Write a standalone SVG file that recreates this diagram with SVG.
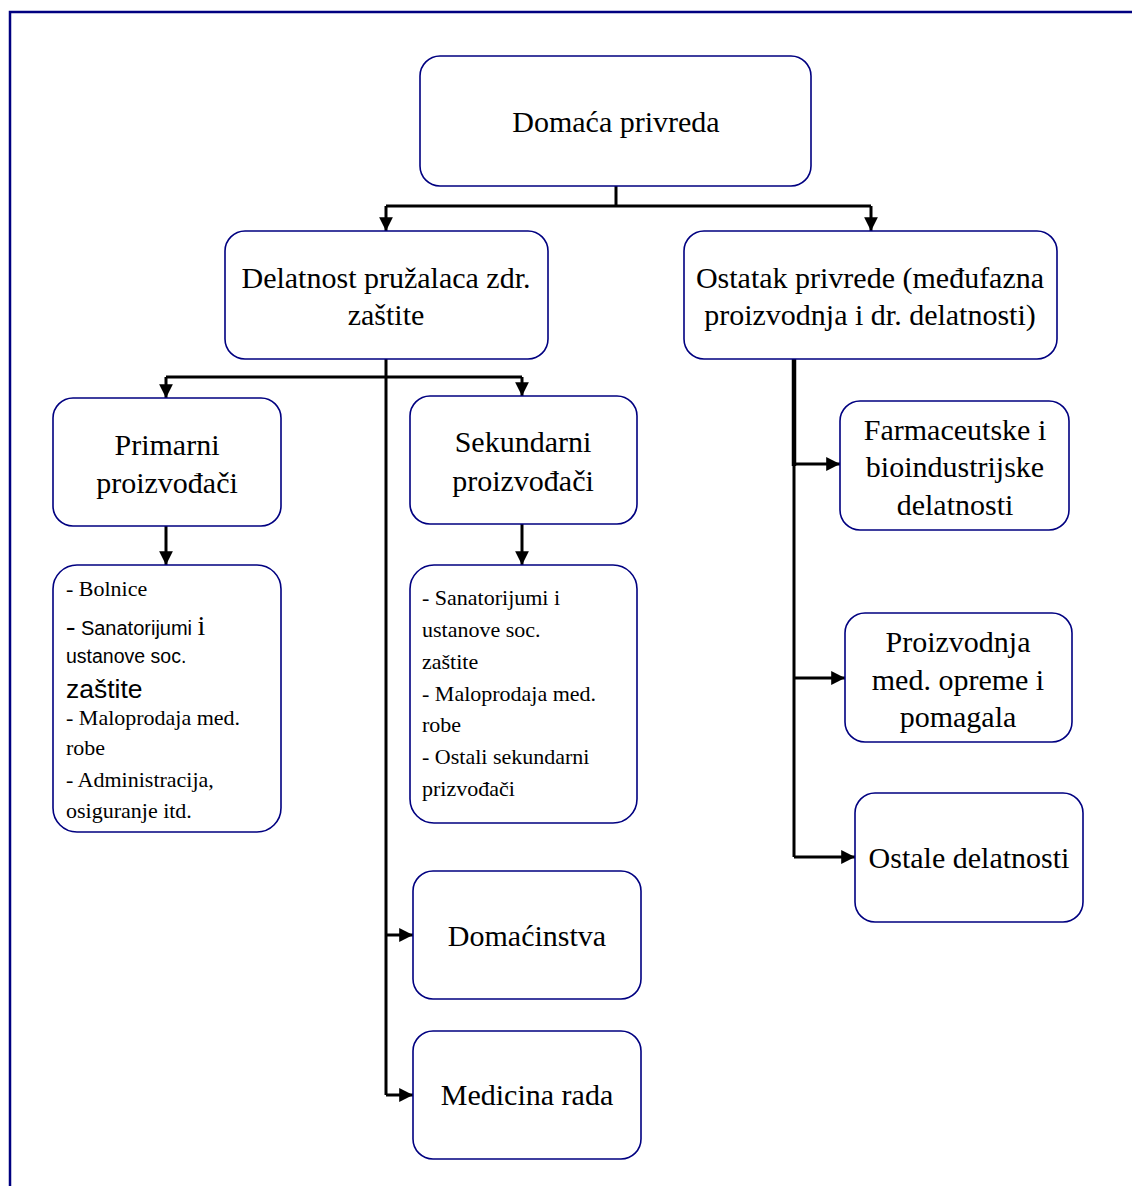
<svg xmlns="http://www.w3.org/2000/svg" width="1132" height="1186" viewBox="0 0 1132 1186">
<style>
.box{fill:#fff;stroke:#000080;stroke-width:1.6}
.t{font-family:"Liberation Serif","Times New Roman",serif;font-size:30px;fill:#000;text-anchor:middle}
.s{font-family:"Liberation Serif","Times New Roman",serif;font-size:22px;fill:#000}
.ss{font-family:"Liberation Sans",Arial,sans-serif;font-size:20px}
.c{stroke:#000;stroke-width:3;fill:none}
</style>
<defs>
<marker id="a" viewBox="0 0 10 10" refX="10" refY="5" markerWidth="5" markerHeight="4.6" orient="auto" markerUnits="strokeWidth">
<path d="M0,0 L10,5 L0,10 z" fill="#000"/>
</marker>
</defs>
<rect width="1132" height="1186" fill="#fff"/>
<path d="M10,1186 V12 H1132" fill="none" stroke="#000080" stroke-width="2.5"/>
<g id="connectors">
<path class="c" d="M616,186 V206"/>
<path class="c" d="M386,206 H871"/>
<path class="c" d="M386,206 V231" marker-end="url(#a)"/>
<path class="c" d="M871,206 V231" marker-end="url(#a)"/>
<path class="c" d="M386,359 V1095"/>
<path class="c" d="M166,377 H522"/>
<path class="c" d="M166,377 V398" marker-end="url(#a)"/>
<path class="c" d="M522,377 V396" marker-end="url(#a)"/>
<path class="c" d="M166,526 V565" marker-end="url(#a)"/>
<path class="c" d="M522,524 V565" marker-end="url(#a)"/>
<path class="c" d="M386,935 H413" marker-end="url(#a)"/>
<path class="c" d="M386,1095 H413" marker-end="url(#a)"/>
<path d="M794,359 V466" stroke="#000" stroke-width="4.5" fill="none"/>
<path class="c" d="M794,464 V857"/>
<path class="c" d="M794,464 H840" marker-end="url(#a)"/>
<path class="c" d="M794,678 H845" marker-end="url(#a)"/>
<path class="c" d="M794,857 H855" marker-end="url(#a)"/>
</g>
<g id="n-domaca"><rect class="box" x="420" y="56" width="391" height="130" rx="20"/><text class="t" x="616" y="132">Domaća privreda</text></g>
<g id="n-delatnost"><rect class="box" x="225" y="231" width="323" height="128" rx="20"/><text class="t" x="386" y="288">Delatnost pružalaca zdr.</text><text class="t" x="386" y="325">zaštite</text></g>
<g id="n-ostatak"><rect class="box" x="684" y="231" width="373" height="128" rx="20"/><text class="t" x="870" y="288">Ostatak privrede (međufazna</text><text class="t" x="870" y="325">proizvodnja i dr. delatnosti)</text></g>
<g id="n-primarni"><rect class="box" x="53" y="398" width="228" height="128" rx="20"/><text class="t" x="167" y="455">Primarni</text><text class="t" x="167" y="493">proizvođači</text></g>
<g id="n-sekundarni"><rect class="box" x="410" y="396" width="227" height="128" rx="20"/><text class="t" x="523" y="452">Sekundarni</text><text class="t" x="523" y="491">proizvođači</text></g>
<g id="n-primarni-list"><rect class="box" x="53" y="565" width="228" height="267" rx="24"/>
<text class="s" x="66" y="596">- Bolnice</text>
<text class="s" x="66" y="635"><tspan style="font-size:28px">-</tspan><tspan class="ss"> Sanatorijumi </tspan><tspan style="font-size:28px">i</tspan></text>
<text class="s" x="66" y="663"><tspan class="ss" style="font-size:19.5px">ustanove soc.</tspan></text>
<text class="s" x="66" y="698"><tspan class="ss" style="font-size:26.5px">zaštite</tspan></text>
<text class="s" x="66" y="725">- Maloprodaja med.</text>
<text class="s" x="66" y="755">robe</text>
<text class="s" x="66" y="787">- Administracija,</text>
<text class="s" x="66" y="818">osiguranje itd.</text>
</g>
<g id="n-sekundarni-list"><rect class="box" x="410" y="565" width="227" height="258" rx="24"/>
<text class="s" x="422" y="605">- Sanatorijumi i</text>
<text class="s" x="422" y="637">ustanove soc.</text>
<text class="s" x="422" y="669">zaštite</text>
<text class="s" x="422" y="701">- Maloprodaja med.</text>
<text class="s" x="422" y="732">robe</text>
<text class="s" x="422" y="764">- Ostali sekundarni</text>
<text class="s" x="422" y="796">prizvođači</text>
</g>
<g id="n-farm"><rect class="box" x="840" y="401" width="229" height="129" rx="20"/><text class="t" x="955" y="440">Farmaceutske i</text><text class="t" x="955" y="477">bioindustrijske</text><text class="t" x="955" y="515">delatnosti</text></g>
<g id="n-proizvodnja"><rect class="box" x="845" y="613" width="227" height="129" rx="20"/><text class="t" x="958" y="652">Proizvodnja</text><text class="t" x="958" y="690">med. opreme i</text><text class="t" x="958" y="727">pomagala</text></g>
<g id="n-ostale"><rect class="box" x="855" y="793" width="228" height="129" rx="20"/><text class="t" x="969" y="868">Ostale delatnosti</text></g>
<g id="n-domacinstva"><rect class="box" x="413" y="871" width="228" height="128" rx="20"/><text class="t" x="527" y="946">Domaćinstva</text></g>
<g id="n-medicina"><rect class="box" x="413" y="1031" width="228" height="128" rx="20"/><text class="t" x="527" y="1105">Medicina rada</text></g>
</svg>
